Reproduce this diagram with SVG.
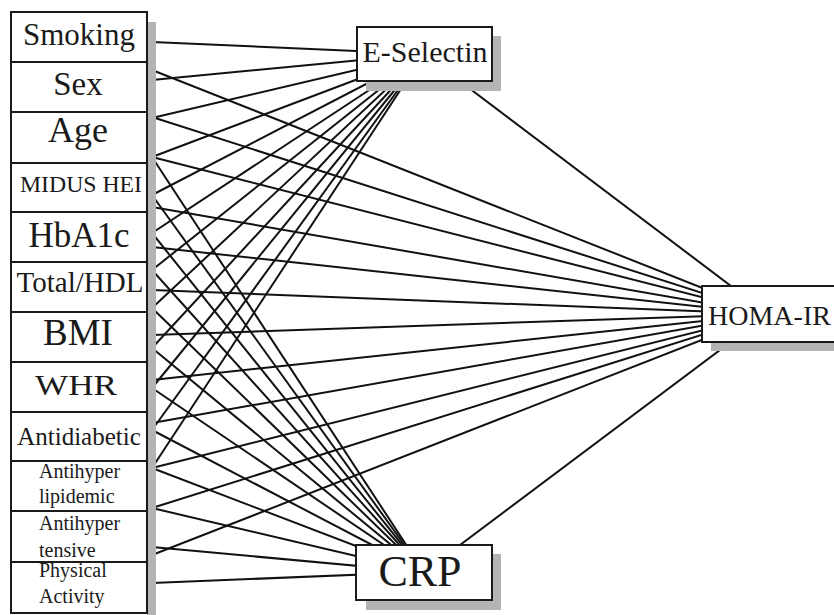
<svg xmlns="http://www.w3.org/2000/svg" width="834" height="615" viewBox="0 0 834 615">
<style>
.c line{stroke:#111;stroke-width:2;fill:none}
.sh{fill:#b4b4b4}
.bx{fill:#fff;stroke:#1a1a1a;stroke-width:2}
text{font-family:"Liberation Serif","Times New Roman",serif;fill:#1a1a1a}
.m{text-anchor:middle}
</style>
<rect width="834" height="615" fill="#fff"/>
<g id="connectors" class="c">
<!-- to E-Selectin -->
<line x1="152" y1="42" x2="424" y2="54"/>
<line x1="152" y1="80" x2="424" y2="54"/>
<line x1="152" y1="118" x2="424" y2="54"/>
<line x1="152" y1="157" x2="424" y2="54"/>
<line x1="152" y1="195" x2="424" y2="54"/>
<line x1="152" y1="233" x2="424" y2="54"/>
<line x1="152" y1="270" x2="424" y2="54"/>
<line x1="152" y1="308" x2="424" y2="54"/>
<line x1="152" y1="348" x2="424" y2="54"/>
<line x1="152" y1="388" x2="424" y2="54"/>
<line x1="152" y1="430" x2="424" y2="54"/>
<line x1="152" y1="468" x2="424" y2="54"/>
<!-- to CRP -->
<line x1="152" y1="157" x2="424" y2="572"/>
<line x1="152" y1="195" x2="424" y2="572"/>
<line x1="152" y1="233" x2="424" y2="572"/>
<line x1="152" y1="270" x2="424" y2="572"/>
<line x1="152" y1="308" x2="424" y2="572"/>
<line x1="152" y1="348" x2="424" y2="572"/>
<line x1="152" y1="388" x2="424" y2="572"/>
<line x1="152" y1="430" x2="424" y2="572"/>
<line x1="152" y1="468" x2="424" y2="572"/>
<line x1="152" y1="508" x2="424" y2="572"/>
<line x1="152" y1="547" x2="424" y2="572"/>
<line x1="152" y1="583" x2="424" y2="572"/>
<!-- to HOMA-IR -->
<line x1="152" y1="70" x2="768" y2="314"/>
<line x1="152" y1="117" x2="768" y2="314"/>
<line x1="152" y1="157" x2="768" y2="314"/>
<line x1="152" y1="207" x2="768" y2="314"/>
<line x1="152" y1="247" x2="768" y2="314"/>
<line x1="152" y1="290" x2="768" y2="314"/>
<line x1="152" y1="335" x2="768" y2="314"/>
<line x1="152" y1="380" x2="768" y2="314"/>
<line x1="152" y1="423" x2="768" y2="314"/>
<line x1="152" y1="468" x2="768" y2="314"/>
<line x1="152" y1="508" x2="768" y2="314"/>
<line x1="152" y1="555" x2="768" y2="314"/>
<!-- mediators to HOMA-IR -->
<line x1="424" y1="54" x2="768" y2="314"/>
<line x1="424" y1="572" x2="768" y2="314"/>
</g>
<rect class="sh" x="147" y="22" width="9" height="593"/>
<g id="smoking"><rect class="bx" x="11" y="12" width="136" height="50"/><text class="m" x="79" y="45" font-size="31">Smoking</text></g>
<g id="sex"><rect class="bx" x="11" y="62" width="136" height="50"/><text class="m" x="78" y="95" font-size="33">Sex</text></g>
<g id="age"><rect class="bx" x="11" y="112" width="136" height="51"/><text class="m" x="78" y="142" font-size="36">Age</text></g>
<g id="midus-hei"><rect class="bx" x="11" y="163" width="136" height="49"/><text class="m" x="81" y="192" font-size="24" textLength="122" lengthAdjust="spacingAndGlyphs">MIDUS HEI</text></g>
<g id="hba1c"><rect class="bx" x="11" y="212" width="136" height="50"/><text class="m" x="79" y="247" font-size="35">HbA1c</text></g>
<g id="total-hdl"><rect class="bx" x="11" y="262" width="136" height="50"/><text class="m" x="80" y="292" font-size="29">Total/HDL</text></g>
<g id="bmi"><rect class="bx" x="11" y="312" width="136" height="50"/><text class="m" x="78" y="345" font-size="37">BMI</text></g>
<g id="whr"><rect class="bx" x="11" y="362" width="136" height="50"/><text class="m" x="76" y="395" font-size="30" textLength="82" lengthAdjust="spacingAndGlyphs">WHR</text></g>
<g id="antidiabetic"><rect class="bx" x="11" y="412" width="136" height="49"/><text class="m" x="79" y="445" font-size="25">Antidiabetic</text></g>
<g id="antihyperlipidemic"><rect class="bx" x="11" y="461" width="136" height="50"/><text x="39" y="478" font-size="20">Antihyper</text><text x="39" y="503" font-size="20">lipidemic</text></g>
<g id="antihypertensive"><rect class="bx" x="11" y="511" width="136" height="51"/><text x="39" y="530" font-size="20">Antihyper</text><text x="39" y="557" font-size="20">tensive</text></g>
<g id="physical-activity"><rect class="bx" x="11" y="562" width="136" height="51"/><text x="39" y="577" font-size="20">Physical</text><text x="39" y="603" font-size="20">Activity</text></g>
<g id="e-selectin"><rect class="sh" x="366" y="36" width="135" height="55"/><rect class="bx" x="357" y="27" width="135" height="54"/><text class="m" x="425" y="62" font-size="30">E-Selectin</text></g>
<g id="crp"><rect class="sh" x="366" y="554" width="135" height="56"/><rect class="bx" x="356" y="545" width="136" height="55"/><text class="m" x="420" y="586" font-size="44">CRP</text></g>
<g id="homa-ir"><rect class="sh" x="711" y="295" width="150" height="56"/><rect class="bx" x="702" y="286" width="150" height="56"/><text x="708" y="325" font-size="28">HOMA-IR</text></g>
</svg>
